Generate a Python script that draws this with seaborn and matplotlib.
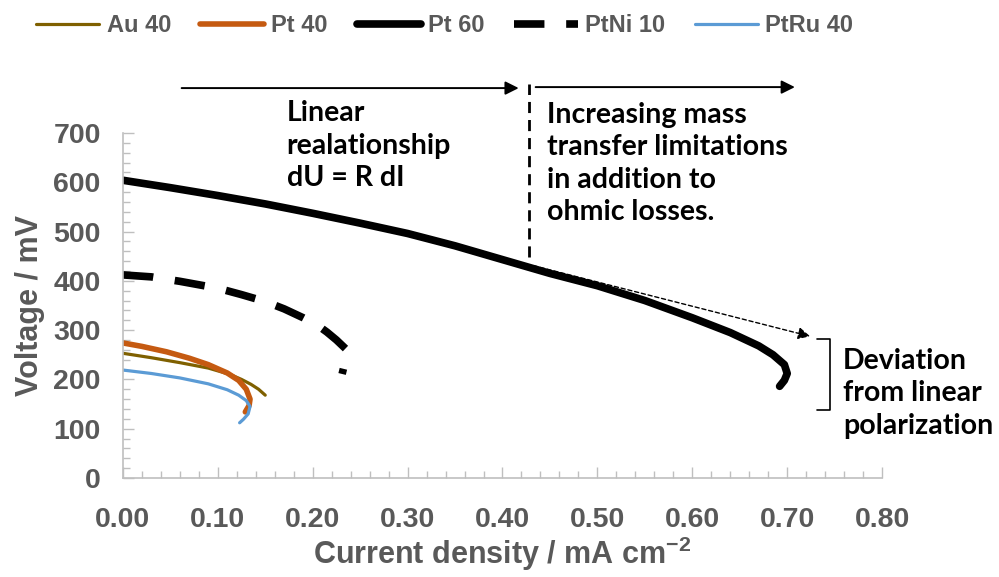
import matplotlib
matplotlib.use("Agg")
import matplotlib.pyplot as plt
from matplotlib.ticker import MultipleLocator
import numpy as np
import seaborn as sns

# Polarisation curves (current density in mA cm-2, voltage in mV)
au40_x = [0.000, 0.030, 0.060, 0.090, 0.113, 0.125, 0.135, 0.143, 0.150]
au40_y = [253, 244, 234, 223, 210, 200, 190, 180, 168]

pt40_x = [0.000, 0.020, 0.046, 0.070, 0.090, 0.110, 0.122, 0.130, 0.134, 0.133, 0.129]
pt40_y = [274, 267, 256, 243, 230, 213, 198, 180, 160, 147, 134]

pt60_x = [0.000, 0.050, 0.100, 0.150, 0.200, 0.250, 0.300, 0.350, 0.400, 0.450,
          0.500, 0.550, 0.600, 0.640, 0.670, 0.685, 0.697, 0.700, 0.697, 0.692]
pt60_y = [604, 589, 573, 556, 537, 517, 496, 471, 443, 415,
          390, 360, 325, 295, 268, 250, 230, 212, 198, 186]

ptni10_x = [0.000, 0.030, 0.060, 0.100, 0.125, 0.150, 0.170, 0.190, 0.205, 0.215,
            0.225, 0.237, 0.231]
ptni10_y = [412, 408, 399, 385, 372, 358, 343, 325, 310, 296, 280, 258, 211]

ptru40_x = [0.000, 0.030, 0.060, 0.090, 0.110, 0.122, 0.130, 0.134, 0.132, 0.127, 0.123]
ptru40_y = [219, 212, 203, 191, 179, 168, 157, 145, 130, 119, 112]

series_names = ["Au 40", "Pt 40", "Pt 60", "PtNi 10", "PtRu 40"]
series_colors = ["#7F6000", "#C55A11", "#000000", "#000000", "#5B9BD5"]

sns.set_style("white")
plt.rcParams["font.family"] = ["Liberation Sans", "DejaVu Sans"]
plt.rcParams["mathtext.fontset"] = "custom"
plt.rcParams["mathtext.rm"] = "Liberation Sans:bold"
plt.rcParams["mathtext.bf"] = "Liberation Sans:bold"

fig = plt.figure(figsize=(9.99, 5.77), dpi=100)
ax = fig.add_axes([0.123, 0.1716, 0.760, 0.598])
ax.set_xlim(0, 0.8)
ax.set_ylim(0, 700)

sns.lineplot(x=au40_x, y=au40_y, sort=False, estimator=None, ax=ax,
             color=series_colors[0], linewidth=2.3, label=series_names[0])
sns.lineplot(x=pt40_x, y=pt40_y, sort=False, estimator=None, ax=ax,
             color=series_colors[1], linewidth=4, label=series_names[1])
sns.lineplot(x=pt60_x, y=pt60_y, sort=False, estimator=None, ax=ax,
             color=series_colors[2], linewidth=5.5, label=series_names[2])
sns.lineplot(x=ptni10_x, y=ptni10_y, sort=False, estimator=None, ax=ax,
             color=series_colors[3], linewidth=5.5, label=series_names[3])
sns.lineplot(x=ptru40_x, y=ptru40_y, sort=False, estimator=None, ax=ax,
             color=series_colors[4], linewidth=2.3, label=series_names[4])
ax.set_xlim(0, 0.8)
ax.set_ylim(0, 700)

# long-dash pattern for PtNi 10, stretched so the curve ends on a short dot
ni_line = ax.lines[3]
pix = ax.transData.transform(np.column_stack([ptni10_x, ptni10_y]))
length_lw = np.hypot(*np.diff(pix, axis=0).T).sum() * 72 / fig.dpi / 5.5
n_periods = round((length_lw - 0.7) / 7.2)
period = (length_lw - 0.7) / n_periods
ni_line.set_linestyle((0, (period * 4.2 / 7.2, period * 3.0 / 7.2)))

ax.xaxis.set_major_locator(MultipleLocator(0.1))
ax.xaxis.set_minor_locator(MultipleLocator(0.02))
ax.yaxis.set_major_locator(MultipleLocator(100))
ax.yaxis.set_minor_locator(MultipleLocator(20))
ax.xaxis.set_major_formatter(plt.FuncFormatter(lambda v, p: f"{v:.2f}"))

for side in ["top", "right"]:
    ax.spines[side].set_visible(False)
for side in ["left", "bottom"]:
    ax.spines[side].set_color("#BFBFBF")
    ax.spines[side].set_linewidth(1.2)

ax.tick_params(which="both", direction="in", color="#BFBFBF", width=1,
               labelcolor="#595959", labelsize=20.5)
ax.tick_params(which="major", length=8, left=True, bottom=True)
ax.tick_params(which="minor", length=5, left=True, bottom=True)
ax.tick_params(axis="x", which="major", pad=21)
ax.tick_params(axis="y", which="major", pad=16)
for lab in ax.get_xticklabels() + ax.get_yticklabels():
    lab.set_fontweight("bold")

ax.set_xlabel("Current density / mA cm$^{-2}$", fontsize=22, fontweight="bold",
              color="#595959", labelpad=1)
ax.set_ylabel("Voltage / mV", fontsize=22, fontweight="bold", color="#595959",
              labelpad=6)

# legend across the top
handles, labels = ax.get_legend_handles_labels()
ax.get_legend().remove()
fig.legend(handles, labels, loc="center", bbox_to_anchor=(0.445, 0.956), ncol=5,
           frameon=False, handlelength=2.7, columnspacing=1.25, handletextpad=0.3,
           prop={"family": "Liberation Sans", "weight": "bold", "size": 17},
           labelcolor="#595959")

# annotations
arrow_kw = dict(arrowstyle="-|>", color="black", lw=1.4, mutation_scale=20)
ax.annotate("", xy=(0.420, 791), xytext=(0.059, 791), arrowprops=arrow_kw,
            annotation_clip=False)
ax.annotate("", xy=(0.711, 793), xytext=(0.432, 793), arrowprops=arrow_kw,
            annotation_clip=False)
ax.plot([0.428, 0.428], [448, 800], color="black", lw=2, linestyle=(0, (4, 2.5)),
        clip_on=False)
ax.annotate("", xy=(0.727, 286), xytext=(0.43, 432),
            arrowprops=dict(arrowstyle="-|>", color="black", lw=1,
                            linestyle=(0, (3, 2)), mutation_scale=18),
            annotation_clip=False)
ax.plot([0.731, 0.745, 0.745, 0.731], [282, 282, 138, 138], color="black", lw=1.2,
        clip_on=False)

note_font = dict(family="Lato", weight="bold", size=20.5, color="black",
                 linespacing=1.3)
ax.text(0.1725, 674, "Linear\nrealationship\ndU = R dI", ha="left", va="center",
        **note_font)
ax.text(0.4466, 638, "Increasing mass\ntransfer limitations\nin addition to\nohmic losses.",
        ha="left", va="center", **note_font)
ax.text(0.759, 172, "Deviation\nfrom linear\npolarization", ha="left", va="center",
        clip_on=False, **note_font)

fig.savefig("out.png", dpi=100)
